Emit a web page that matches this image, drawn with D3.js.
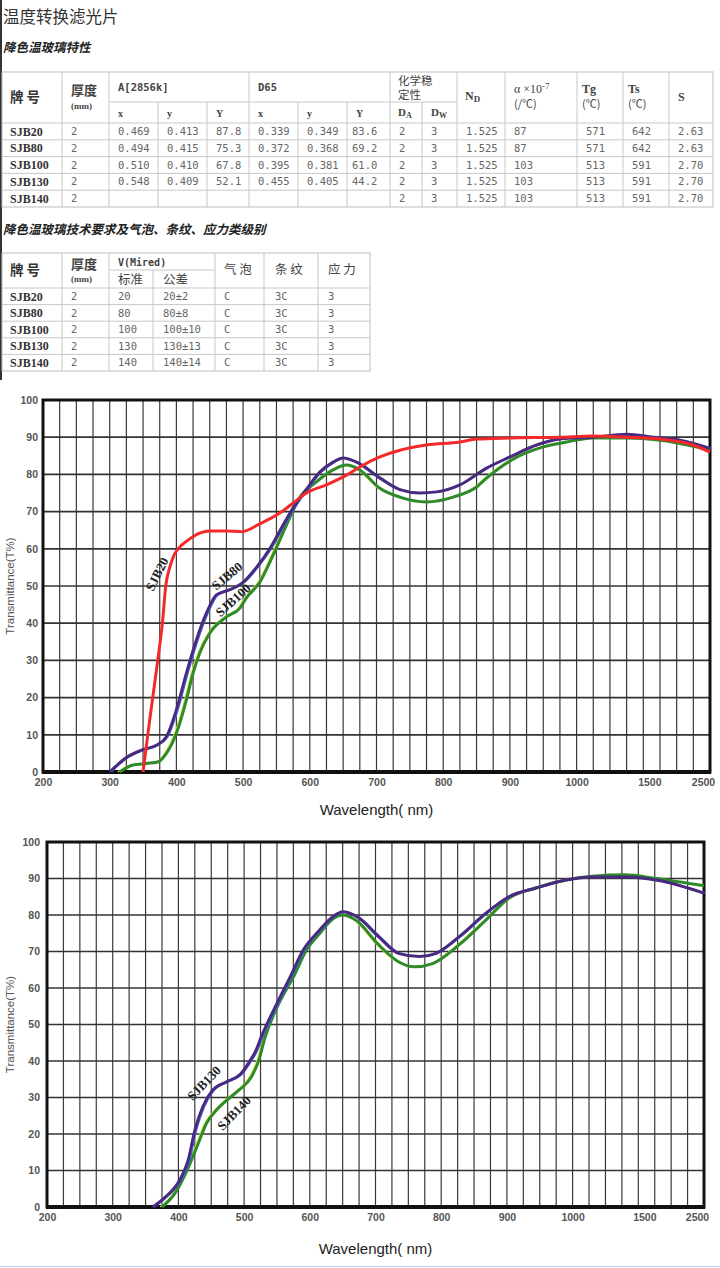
<!DOCTYPE html>
<html>
<head>
<meta charset="utf-8">
<script src="https://cdn.jsdelivr.net/npm/d3@7"></script>
<style>
  body { margin: 0; background: #fff; }
</style>
</head>
<body>
<div id="page"></div>
<script>
// ---------- table data ----------
var grades    = ["SJB20", "SJB80", "SJB100", "SJB130", "SJB140"];
var thickness = ["2", "2", "2", "2", "2"];
var aX        = ["0.469", "0.494", "0.510", "0.548", ""];
var aY        = ["0.413", "0.415", "0.410", "0.409", ""];
var aBigY     = ["87.8", "75.3", "67.8", "52.1", ""];
var dX        = ["0.339", "0.372", "0.395", "0.455", ""];
var dY        = ["0.349", "0.368", "0.381", "0.405", ""];
var dBigY     = ["83.6", "69.2", "61.0", "44.2", ""];
var chemDA    = ["2", "2", "2", "2", "2"];
var chemDW    = ["3", "3", "3", "3", "3"];
var nD        = ["1.525", "1.525", "1.525", "1.525", "1.525"];
var alpha     = ["87", "87", "103", "103", "103"];
var tg        = ["571", "571", "513", "513", "513"];
var ts        = ["642", "642", "591", "591", "591"];
var sVal      = ["2.63", "2.63", "2.70", "2.70", "2.70"];

var mired     = ["20", "80", "100", "130", "140"];
var miredTol  = ["20±2", "80±8", "100±10", "130±13", "140±14"];
var bubble    = ["C", "C", "C", "C", "C"];
var stria     = ["3C", "3C", "3C", "3C", "3C"];
var stress    = ["3", "3", "3", "3", "3"];

// ---------- chart data ----------
var xTicks = [200, 300, 400, 500, 600, 700, 800, 900, 1000, 1500, 2500];
var yTicks = [0, 10, 20, 30, 40, 50, 60, 70, 80, 90, 100];

// chart 1
var sjb20Wl = [350, 360, 372, 379, 384, 390, 397, 405, 415, 435, 450, 475, 498, 525, 555, 575, 595, 625, 655, 675, 705, 735, 775, 825, 850, 900, 975, 1120, 1375, 1750, 2250, 2500];
var sjb20T  = [0, 14, 30, 40, 50, 55, 58.5, 60.5, 62, 64.2, 64.8, 64.8, 64.6, 66.7, 69.6, 72.3, 75, 77.2, 79.8, 82, 84.7, 86.5, 87.9, 88.7, 89.5, 89.8, 90, 90.3, 90, 89.5, 87.9, 86];

var sjb80Wl = [300, 326, 350, 370, 385, 400, 415, 430, 445, 460, 480, 500, 520, 540, 560, 575, 595, 615, 635, 650, 670, 705, 735, 765, 790, 825, 865, 900, 940, 975, 1120, 1375, 1650, 2050, 2500];
var sjb80T  = [0, 4, 6, 7.2, 9.5, 16.7, 26.6, 35.5, 42.7, 47.6, 49, 51, 55, 60, 66.4, 71, 76, 80.6, 83.3, 84.4, 83.3, 79, 75.9, 75, 75.3, 77.2, 81.7, 84.7, 87.9, 89.5, 90, 90.8, 90, 89.2, 87];

var sjb100Wl = [315, 335, 355, 372, 385, 400, 415, 425, 435, 450, 475, 495, 505, 525, 545, 565, 585, 610, 635, 655, 675, 705, 735, 775, 815, 850, 865, 900, 950, 985, 1120, 1375, 1750, 2500];
var sjb100T  = [0, 1.9, 2.3, 2.7, 5, 10.4, 19.4, 26.6, 32, 37.3, 41.7, 44, 46.8, 51, 58.3, 66.4, 73.7, 78, 81.2, 82.5, 81.2, 76.3, 73.9, 72.6, 73.9, 76.6, 79, 83.6, 87.4, 88.7, 89.8, 89.8, 89.2, 86.6];

// chart 2
var sjb130Wl = [361, 380, 402, 415, 425, 437, 452, 472, 495, 507, 517, 527, 550, 570, 590, 615, 635, 650, 672, 705, 735, 767, 792, 827, 868, 903, 944, 990, 1150, 1400, 1770, 2500];
var sjb130T  = [0, 2.7, 7.4, 12.9, 21, 27.4, 32, 34.2, 36.5, 39.5, 42.5, 47, 55.8, 63, 70.4, 75.9, 79.5, 80.9, 79.5, 74, 69.5, 68.6, 69.5, 74, 80.5, 85, 87.4, 89.6, 90.4, 90.4, 89.6, 86];

var sjb140Wl = [375, 395, 413, 428, 443, 458, 474, 492, 511, 522, 532, 553, 575, 595, 615, 635, 650, 670, 705, 735, 759, 787, 827, 868, 903, 944, 990, 1150, 1400, 1770, 2500];
var sjb140T  = [0, 3.8, 10, 16.4, 23, 26.6, 29.3, 32, 35.6, 40, 46.5, 55.8, 63, 70.4, 74.9, 78.9, 80, 78.6, 71.8, 67.2, 65.8, 66.7, 71.8, 78.6, 84.6, 87.4, 89.6, 90.6, 91, 90, 88];

// ---------- page ----------
var W = 720, H = 1268;
var cjk = "'Noto Sans CJK SC', sans-serif";
var serif = "'Liberation Serif', 'DejaVu Serif', serif";
var mono = "'DejaVu Sans Mono', monospace";
var sans = "'Liberation Sans', Arial, sans-serif";

var svg = d3.select("#page").append("svg")
  .attr("width", W)
  .attr("height", H)
  .style("display", "block");

svg.append("rect").attr("width", W).attr("height", H).attr("fill", "#fff");

// left dark bar
svg.append("line")
  .attr("x1", 1).attr("x2", 1).attr("y1", 0).attr("y2", 380)
  .attr("stroke", "#333").attr("stroke-width", 2);

// titles
svg.append("text")
  .attr("x", 3).attr("y", 17).attr("dy", "0.35em")
  .style("font-family", cjk).style("font-size", "16.5px").attr("fill", "#333")
  .text("温度转换滤光片");

svg.append("text")
  .attr("x", 3).attr("y", 48).attr("dy", "0.35em")
  .style("font-family", cjk).style("font-size", "12.5px").style("font-weight", "bold")
  .style("font-style", "italic").attr("fill", "#222")
  .text("降色温玻璃特性");

svg.append("text")
  .attr("x", 3).attr("y", 230).attr("dy", "0.35em")
  .style("font-family", cjk).style("font-size", "12.5px").style("font-weight", "bold")
  .style("font-style", "italic").attr("fill", "#222")
  .text("降色温玻璃技术要求及气泡、条纹、应力类级别");

// helpers
function txt(g, x, y, s, font, size, weight, fill) {
  return g.append("text")
    .attr("x", x).attr("y", y).attr("dy", "0.35em")
    .style("font-family", font).style("font-size", size + "px")
    .style("font-weight", weight || "normal")
    .attr("fill", fill || "#333")
    .text(s);
}
// two-line header cell: one text element, second line as a tspan
function txt2(g, x, y, gap, a, b) {
  var t = g.append("text").attr("x", x).attr("y", y).attr("dy", "0.35em").attr("fill", "#444");
  var s1 = t.append("tspan").attr("x", x)
    .style("font-family", a.font).style("font-size", a.size + "px")
    .style("font-weight", a.weight || "normal").text(a.text);
  if (a.sup) s1.append("tspan").attr("dy", "-0.45em").style("font-size", "9px").text(a.sup);
  t.append("tspan").attr("x", x).attr("y", y + gap).attr("dy", "0.35em")
    .style("font-family", b.font).style("font-size", b.size + "px")
    .style("font-weight", b.weight || "normal").text(b.text);
  return t;
}
function hline(g, x1, x2, y) {
  g.append("line").attr("x1", x1).attr("x2", x2).attr("y1", y).attr("y2", y)
    .attr("stroke", "#c8c8c8").attr("stroke-width", 1);
}
function vline(g, x, y1, y2) {
  g.append("line").attr("x1", x).attr("x2", x).attr("y1", y1).attr("y2", y2)
    .attr("stroke", "#c8c8c8").attr("stroke-width", 1);
}

// ---------- table 1 ----------
var t1 = svg.append("g");
var c1 = [2, 62, 109, 158, 207, 249, 298, 347, 390, 422, 457, 505, 577, 623, 669, 713];
var t1Top = 72, t1Mid = 102, t1Head = 123, t1Bot = 207;
var rowH1 = (t1Bot - t1Head) / grades.length;

t1.append("rect").attr("x", c1[0]).attr("y", t1Top)
  .attr("width", c1[c1.length - 1] - c1[0]).attr("height", t1Bot - t1Top)
  .attr("fill", "none").attr("stroke", "#bdbdbd");
hline(t1, c1[2], c1[10], t1Mid);
for (var i = 0; i < grades.length; i++) hline(t1, c1[0], c1[15], t1Head + i * rowH1);
[62, 109, 249, 390, 457, 505, 577, 623, 669].forEach(function (x) { vline(t1, x, t1Top, t1Bot); });
[158, 207, 298, 347, 422].forEach(function (x) { vline(t1, x, t1Mid, t1Bot); });

// header texts
txt(t1, 10, 97, "牌 号", cjk, 13.5, "bold", "#333");
txt2(t1, 71, 89, 17, { text: "厚度", font: cjk, size: 13, weight: "bold" },
  { text: "(mm)", font: serif, size: 9, weight: "bold" });
txt(t1, 118, 87, "A[2856k]", mono, 10.5, "bold", "#444");
txt(t1, 258, 87, "D65", mono, 10.5, "bold", "#444");
["x", "y", "Y", "x", "y", "Y"].forEach(function (s, k) {
  txt(t1, c1[2 + k] + 9, 113, s, serif, 10, "bold", "#444");
});
txt2(t1, 398, 79, 16, { text: "化学稳", font: cjk, size: 11.5 },
  { text: "定性", font: cjk, size: 11.5 });
var da = txt(t1, 398, 112, "D", serif, 11, "bold", "#444");
da.append("tspan").attr("dy", "0.25em").style("font-size", "8px").text("A");
var dw = txt(t1, 431, 112, "D", serif, 11, "bold", "#444");
dw.append("tspan").attr("dy", "0.25em").style("font-size", "8px").text("W");
var nd = txt(t1, 465, 96, "N", serif, 12, "bold", "#444");
nd.append("tspan").attr("dy", "0.25em").style("font-size", "9px").text("D");
txt2(t1, 514, 87, 17, { text: "α ×10", sup: "-7", font: serif, size: 12 },
  { text: "(/℃)", font: cjk, size: 11 });
txt2(t1, 582, 87, 17, { text: " Tg", font: serif, size: 12, weight: "bold" },
  { text: "(℃)", font: cjk, size: 11 });
txt2(t1, 628, 87, 17, { text: " Ts", font: serif, size: 12, weight: "bold" },
  { text: "(℃)", font: cjk, size: 11 });
txt(t1, 678, 97, "S", serif, 12, "bold", "#444");

var t1Cols = [grades, thickness, aX, aY, aBigY, dX, dY, dBigY, chemDA, chemDW, nD, alpha, tg, ts, sVal];
t1Cols.forEach(function (col, k) {
  t1.selectAll(null)
    .data(col)
    .enter()
    .append("text")
    .attr("x", k === 0 ? 10 : c1[k] + (k === 7 ? 5 : 9))
    .attr("y", function (d, i) { return t1Head + (i + 0.5) * rowH1; })
    .attr("dy", "0.35em")
    .style("font-family", k === 0 ? serif : mono)
    .style("font-size", k === 0 ? "12px" : "10.5px")
    .style("font-weight", k === 0 ? "bold" : "normal")
    .attr("fill", k === 0 ? "#333" : "#666")
    .text(function (d) { return d; });
});

// ---------- table 2 ----------
var t2 = svg.append("g");
var c2 = [2, 62, 109, 153, 215, 264, 318, 370];
var t2Top = 253, t2Mid = 270, t2Head = 288, t2Bot = 371;
var rowH2 = (t2Bot - t2Head) / grades.length;

t2.append("rect").attr("x", c2[0]).attr("y", t2Top)
  .attr("width", c2[c2.length - 1] - c2[0]).attr("height", t2Bot - t2Top)
  .attr("fill", "none").attr("stroke", "#bdbdbd");
hline(t2, c2[2], c2[4], t2Mid);
for (var j = 0; j < grades.length; j++) hline(t2, c2[0], c2[7], t2Head + j * rowH2);
[62, 109, 215, 264, 318].forEach(function (x) { vline(t2, x, t2Top, t2Bot); });
vline(t2, 153, t2Mid, t2Bot);

txt(t2, 10, 270, "牌 号", cjk, 13.5, "bold", "#333");
txt2(t2, 71, 263.5, 15.5, { text: "厚度", font: cjk, size: 13, weight: "bold" },
  { text: "(mm)", font: serif, size: 9, weight: "bold" });
txt(t2, 118, 262, "V(Mired)", mono, 10, "bold", "#444");
txt(t2, 118, 280, "标准", cjk, 12.5, "normal", "#444");
txt(t2, 163, 280, "公差", cjk, 12.5, "normal", "#444");
txt(t2, 224, 270, "气 泡", cjk, 12.5, "normal", "#444");
txt(t2, 275, 270, "条 纹", cjk, 12.5, "normal", "#444");
txt(t2, 328, 270, "应 力", cjk, 12.5, "normal", "#444");

var t2Cols = [grades, thickness, mired, miredTol, bubble, stria, stress];
var t2X = [10, 71, 118, 163, 224, 275, 328];
t2Cols.forEach(function (col, k) {
  t2.selectAll(null)
    .data(col)
    .enter()
    .append("text")
    .attr("x", t2X[k])
    .attr("y", function (d, i) { return t2Head + (i + 0.5) * rowH2; })
    .attr("dy", "0.35em")
    .style("font-family", k === 0 ? serif : mono)
    .style("font-size", k === 0 ? "12px" : "10.5px")
    .style("font-weight", k === 0 ? "bold" : "normal")
    .attr("fill", k === 0 ? "#333" : "#666")
    .text(function (d) { return d; });
});

// ---------- charts ----------
function zip(a, b) { return a.map(function (v, i) { return [v, b[i]]; }); }

function drawChart(cfg) {
  var g = svg.append("g");
  var l = cfg.left, r = cfg.right, t = cfg.top, b = cfg.bottom, w = r - l;

  var x = d3.scaleLinear()
    .domain([200, 1000, 1500, 2500])
    .range([l, l + 0.8 * w, l + 0.9 * w, r]);
  var y = d3.scaleLinear().domain([0, 100]).range([b, t]);

  // grid: four columns between neighbouring tick labels
  var xGrid = [];
  for (var i = 0; i < xTicks.length - 1; i++) {
    for (var k = 0; k < 4; k++) xGrid.push(xTicks[i] + k * (xTicks[i + 1] - xTicks[i]) / 4);
  }
  xGrid.push(xTicks[xTicks.length - 1]);

  g.selectAll(null).data(xGrid).enter().append("line")
    .attr("x1", function (d) { return x(d); }).attr("x2", function (d) { return x(d); })
    .attr("y1", t).attr("y2", b)
    .attr("stroke", "#3a3a3a").attr("stroke-width", 1.2);
  g.selectAll(null).data(yTicks).enter().append("line")
    .attr("x1", l).attr("x2", r)
    .attr("y1", function (d) { return y(d); }).attr("y2", function (d) { return y(d); })
    .attr("stroke", "#333").attr("stroke-width", 1.7);

  // frame
  g.append("rect").attr("x", l).attr("y", t).attr("width", w).attr("height", b - t)
    .attr("fill", "none").attr("stroke", "#111").attr("stroke-width", 3);
  g.append("line").attr("x1", l - 1).attr("x2", r + 1).attr("y1", b).attr("y2", b)
    .attr("stroke", "#111").attr("stroke-width", 4);

  // axes
  var yAxis = g.append("g")
    .attr("transform", "translate(" + l + ",0)")
    .call(d3.axisLeft(y).tickValues(yTicks).tickSize(0).tickPadding(cfg.yPad));
  var xAxis = g.append("g")
    .attr("transform", "translate(0," + b + ")")
    .call(d3.axisBottom(x).tickValues(xTicks).tickSize(0).tickPadding(cfg.xPad).tickFormat(d3.format("d")));
  [yAxis, xAxis].forEach(function (ax) {
    ax.select(".domain").remove();
    ax.selectAll("text")
      .style("font-family", sans).style("font-size", "10.5px")
      .style("font-weight", "bold").attr("fill", "#555");
  });
  xAxis.selectAll("text").attr("dx", function (d) {
    return d === 1500 ? 6 : d === 2500 ? -7 : 0;
  });

  // axis titles
  g.append("text")
    .attr("x", (l + r) / 2).attr("y", cfg.xTitleY).attr("dy", "0.35em")
    .attr("text-anchor", "middle")
    .style("font-family", sans).style("font-size", "15px").attr("fill", "#222")
    .text("Wavelength( nm)");
  g.append("text")
    .attr("transform", "translate(10," + (t + b) / 2 + ") rotate(-90)")
    .attr("dy", "0.35em").attr("text-anchor", "middle")
    .style("font-family", sans).style("font-size", "11.5px").attr("fill", "#555")
    .text("Transmittance(T%)");

  // curves
  var line = d3.line()
    .x(function (d) { return x(d[0]); })
    .y(function (d) { return y(d[1]); })
    .curve(d3.curveMonotoneX);

  cfg.series.forEach(function (s) {
    if (s.edge) {
      g.append("path").datum(s.data).attr("d", line)
        .attr("transform", "translate(" + s.edgeDx + ",0)")
        .attr("fill", "none").attr("stroke", s.edge).attr("stroke-width", 1.2);
    }
    g.append("path").datum(s.data).attr("d", line)
      .attr("fill", "none").attr("stroke", s.color).attr("stroke-width", 3)
      .attr("stroke-linejoin", "round");
  });

  // curve labels
  cfg.labels.forEach(function (lb) {
    g.append("text")
      .attr("transform", "translate(" + lb.x + "," + lb.y + ") rotate(" + lb.angle + ")")
      .attr("text-anchor", "middle").attr("dy", "0.35em")
      .style("font-family", serif).style("font-size", "13px").style("font-weight", "bold")
      .attr("fill", "#222")
      .text(lb.text);
  });
}

drawChart({
  left: 43, right: 710, top: 400, bottom: 772,
  yPad: 5, xPad: 7, xTitleY: 810,
  series: [
    { data: zip(sjb100Wl, sjb100T), color: "#2f8a2a", edge: "#d8e23a", edgeDx: -1.8 },
    { data: zip(sjb80Wl, sjb80T), color: "#4a2a80", edge: "#3a70e0", edgeDx: 1.8 },
    { data: zip(sjb20Wl, sjb20T), color: "#f42a2a" }
  ],
  labels: [
    { text: "SJB20", x: 157, y: 574, angle: -64 },
    { text: "SJB80", x: 227, y: 576, angle: -40 },
    { text: "SJB100", x: 233, y: 600, angle: -42 }
  ]
});

drawChart({
  left: 47, right: 704, top: 842, bottom: 1207,
  yPad: 7, xPad: 7, xTitleY: 1249,
  series: [
    { data: zip(sjb140Wl, sjb140T), color: "#2f8a2a", edge: "#d8e23a", edgeDx: -1.8 },
    { data: zip(sjb130Wl, sjb130T), color: "#4a2a80", edge: "#3a70e0", edgeDx: 1.8 }
  ],
  labels: [
    { text: "SJB130", x: 204, y: 1083, angle: -46 },
    { text: "SJB140", x: 234, y: 1113, angle: -46 }
  ]
});

// thin light-blue rule at the very bottom
svg.append("line").attr("x1", 0).attr("x2", W).attr("y1", 1266.5).attr("y2", 1266.5)
  .attr("stroke", "#c8d8f2").attr("stroke-width", 1.5);
</script>
</body>
</html>
